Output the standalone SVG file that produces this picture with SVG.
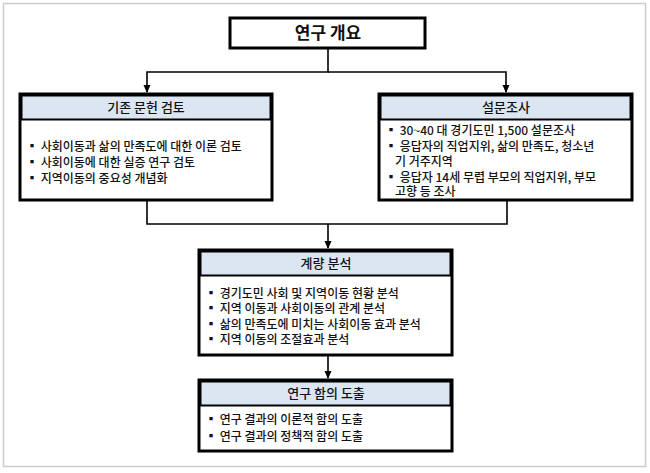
<svg xmlns="http://www.w3.org/2000/svg" width="650" height="473" viewBox="0 0 650 473">
<defs>
<marker id="ar" markerWidth="8" markerHeight="8" refX="7" refY="4" orient="auto" markerUnits="userSpaceOnUse"><path d="M0,0.5 L8,4 L0,7.5 Z" fill="#000"/></marker>
<style>
text{font-family:"Noto Sans CJK KR","Noto Sans",sans-serif;fill:#111}
.box{fill:#fff;stroke:#000;stroke-width:3}
.hd{fill:#dce6f2;stroke:#000;stroke-width:2}
.h{font-size:13px;text-anchor:middle;font-weight:500}
.b{font-size:12px;font-weight:500}
.ln{fill:none;stroke:#000;stroke-width:1.6}
</style>
</defs>
<rect x="0" y="0" width="650" height="473" fill="#fff"/>
<rect x="3.5" y="3.5" width="642" height="463" fill="none" stroke="#ccc" stroke-width="1.5"/>
<g id="connectors">
<path class="ln" d="M328,48 V72 H147 V92" marker-end="url(#ar)"/>
<path class="ln" d="M328,72 H506 V92" marker-end="url(#ar)"/>
<path class="ln" d="M147,200 V224 H507 V200"/>
<path class="ln" d="M328,224 V248" marker-end="url(#ar)"/>
<path class="ln" d="M328,355 V378" marker-end="url(#ar)"/>
</g>
<g id="n0">
<rect class="box" x="230" y="18" width="195" height="30"/>
<text x="328" y="39" font-size="17" font-weight="bold" text-anchor="middle">연구 개요</text>
</g>
<g id="n1">
<rect class="box" x="20" y="94" width="252" height="106"/>
<rect class="hd" x="21.5" y="95.5" width="249" height="24"/>
<text class="h" x="146" y="112">기존 문헌 검토</text>
<text class="b" x="26" y="151">▪ 사회이동과 삶의 만족도에 대한 이론 검토</text>
<text class="b" x="26" y="167">▪ 사회이동에 대한 실증 연구 검토</text>
<text class="b" x="26" y="183">▪ 지역이동의 중요성 개념화</text>
</g>
<g id="n2">
<rect class="box" x="379" y="94" width="253" height="106"/>
<rect class="hd" x="380.5" y="95.5" width="250" height="24"/>
<text class="h" x="506" y="112">설문조사</text>
<text class="b" x="385" y="135">▪ 30~40 대 경기도민 1,500 설문조사</text>
<text class="b" x="385" y="151">▪ 응답자의 직업지위, 삶의 만족도, 청소년</text>
<text class="b" x="395" y="166">기 거주지역</text>
<text class="b" x="385" y="182">▪ 응답자 14세 무렵 부모의 직업지위, 부모</text>
<text class="b" x="395" y="196">고향 등 조사</text>
</g>
<g id="n3">
<rect class="box" x="199" y="250" width="253" height="105"/>
<rect class="hd" x="200.5" y="251.5" width="250" height="24"/>
<text class="h" x="326" y="268">계량 분석</text>
<text class="b" x="205" y="298">▪ 경기도민 사회 및 지역이동 현황 분석</text>
<text class="b" x="205" y="313">▪ 지역 이동과 사회이동의 관계 분석</text>
<text class="b" x="205" y="329">▪ 삶의 만족도에 미치는 사회이동 효과 분석</text>
<text class="b" x="205" y="344">▪ 지역 이동의 조절효과 분석</text>
</g>
<g id="n4">
<rect class="box" x="199" y="380" width="253" height="71"/>
<rect class="hd" x="200.5" y="381.5" width="250" height="24"/>
<text class="h" x="326" y="398">연구 함의 도출</text>
<text class="b" x="205" y="424">▪ 연구 결과의 이론적 함의 도출</text>
<text class="b" x="205" y="441">▪ 연구 결과의 정책적 함의 도출</text>
</g>
</svg>
